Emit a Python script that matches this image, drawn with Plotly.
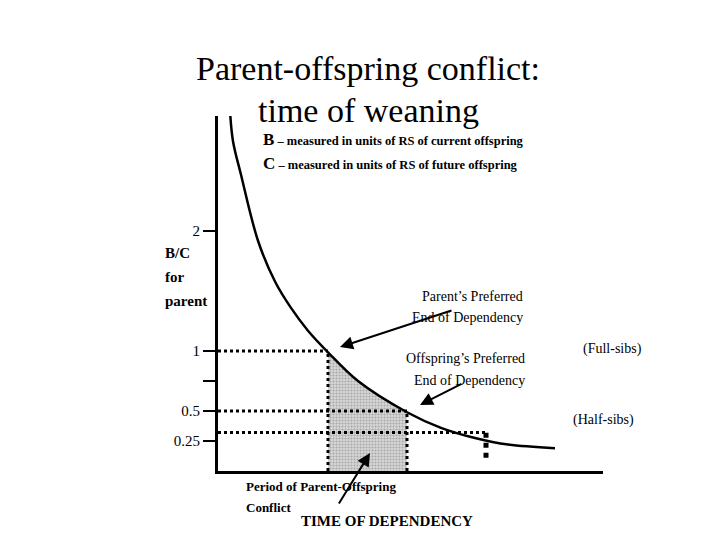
import plotly.graph_objects as go

# curve: time of dependency (arbitrary units) vs B/C for parent
t = [12, 15, 23, 40, 57, 73, 90, 110, 140, 189, 223, 257, 290, 337]
bc = [3.0, 2.75, 2.47, 1.92, 1.58, 1.36, 1.17, 0.99, 0.75, 0.49, 0.36, 0.275, 0.22, 0.19]

t_parent, t_offspring, t_half = 110, 189, 268
bc_full, bc_half = 0.5, 0.32

tick_vals = [0.25, 0.5, 0.75, 1, 2]
tick_text = ["0.25", "0.5", "", "1", "2"]

SERIF = "Liberation Serif"
L, R, T, B = 210, 125, 108, 77
PW, PH = 720 - L - R, 540 - T - B


def px(x, y):
    # page pixels -> paper coordinates (paper spans the plot area)
    return (x - L) / PW, (540 - B - y) / PH


fig = go.Figure()

# shaded conflict period
shade_t = [v for v in t if t_parent <= v <= t_offspring]
shade_bc = [bc[t.index(v)] for v in shade_t]
fig.add_trace(go.Scatter(
    x=shade_t, y=shade_bc, mode="lines", line=dict(width=0, shape="spline"),
    fill="tozeroy", fillcolor="rgba(200,200,200,1)",
    fillpattern=dict(shape=".", fgcolor="#777", bgcolor="#d8d8d8", size=3, solidity=0.4),
    hoverinfo="skip"))

dot = dict(color="black", width=3, dash="dot")
for x_end, y_val in [(t_parent, 1), (t_offspring, bc_full), (t_half, bc_half)]:
    fig.add_trace(go.Scatter(x=[0, x_end], y=[y_val, y_val], mode="lines", line=dot, hoverinfo="skip"))
fig.add_trace(go.Scatter(x=[t_parent, t_parent], y=[0, 1], mode="lines", line=dot))
fig.add_trace(go.Scatter(x=[t_offspring, t_offspring], y=[0, bc_full], mode="lines", line=dot))
fig.add_trace(go.Scatter(x=[t_half, t_half], y=[0.11, bc_half], mode="lines",
                         line=dict(color="black", width=5, dash="dot")))

fig.add_trace(go.Scatter(x=t, y=bc, mode="lines", line=dict(color="black", width=2.5, shape="spline")))

notes = [
    (360, 40, "Parent-offspring conflict:", 34),
    (360, 82, "time of weaning", 34),
    (155, 245, "<b>B/C</b>", 15),
    (155, 269, "<b>for</b>", 15),
    (155, 293, "<b>parent</b>", 15),
    (517, 288, "Parent’s Preferred", 14),
    (517, 309, "End of Dependency", 14),
    (519, 360, "Offspring’s Preferred", 14),
    (519, 382, "End of Dependency", 14),
    (636, 351, "(Full-sibs)", 14),
    (628, 422, "(Half-sibs)", 14),
    (236, 488, "<b>Period of Parent-Offspring</b>", 13),
    (236, 509, "<b>Conflict</b>", 13),
    (379, 523, "<b>TIME OF DEPENDENCY</b>", 15),
]
ann = []
for x, y, text, size in notes:
    ax_, ay_ = px(x, y)
    ann.append(dict(xref="paper", yref="paper", x=ax_, y=ay_, text=text, showarrow=False,
                    font=dict(family=SERIF, size=size, color="black")))
for y, letter, rest in [(120, "B", "current"), (144, "C", "future")]:
    ax_, ay_ = px(253, y)
    ann.append(dict(xref="paper", yref="paper", x=ax_, y=ay_, xanchor="left", showarrow=False,
                    text=f"<b><span style='font-size:17px'>{letter}</span> – measured in units of RS of {rest} offspring</b>",
                    font=dict(family=SERIF, size=12.5, color="black")))
for tx, ty, sx, sy in [(332, 339, 445, 302), (412, 397, 455, 375), (362, 445, 330, 497)]:
    ax_, ay_ = px(tx, ty)
    ann.append(dict(xref="paper", yref="paper", x=ax_, y=ay_,
                    axref="pixel", ayref="pixel", ax=sx - tx, ay=sy - ty, text="",
                    showarrow=True, arrowhead=2, arrowsize=1.3, arrowwidth=2, arrowcolor="black"))

fig.update_layout(
    width=720, height=540, showlegend=False, plot_bgcolor="white", paper_bgcolor="white",
    margin=dict(l=L, r=R, t=T, b=B), annotations=ann,
    xaxis=dict(range=[0, 385], showgrid=False, zeroline=False, showticklabels=False,
               showline=True, linecolor="black", linewidth=3),
    yaxis=dict(range=[0, 2.96], showgrid=False, zeroline=False, showline=True,
               linecolor="black", linewidth=3, tickvals=tick_vals, ticktext=tick_text,
               ticks="outside", ticklen=12, tickwidth=2, tickcolor="black",
               tickfont=dict(family=SERIF, size=15, color="black")),
)

fig.write_html("out.html")
